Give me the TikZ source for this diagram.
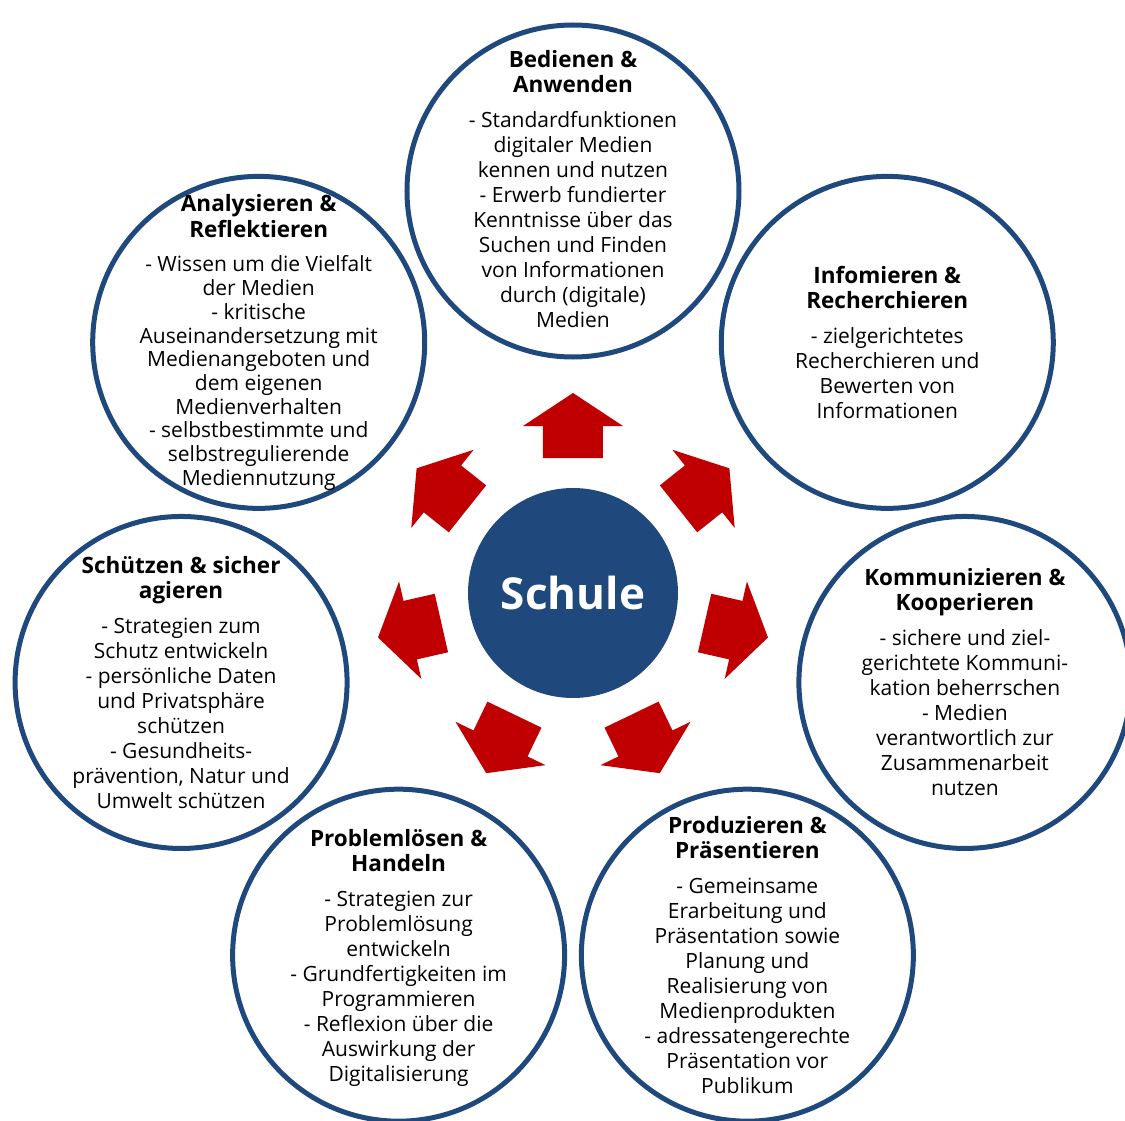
\documentclass[tikz,border=0pt]{standalone}
\usepackage{fontspec}
\setmainfont{Open Sans}
\usepackage{xcolor}
\usepackage{tikz}

\definecolor{schoolblue}{HTML}{1F497D}
\definecolor{arrowred}{HTML}{C00000}
\newcommand{\areatitle}[1]{{\fontsize{22.5}{25}\selectfont\bfseries #1}}

\begin{document}
\begin{tikzpicture}[
    x=1pt, y=1pt,
    core/.style={circle, fill=schoolblue, minimum size=210, inner sep=0, text=white, font=\fontsize{44}{50}\selectfont\bfseries},
    area/.style={circle, draw=schoolblue, line width=5, fill=white, minimum size=332, inner sep=0},
    content/.style={align=center, inner sep=0, font=\fontsize{21}{25}\selectfont},
    outarrow/.style={fill=arrowred}
]
    \useasboundingbox (-573,-527) rectangle (552,593);

    % Centre: Schule
    \node[core] (schule) at (0,0) {Schule};

    % Arrows pointing outwards
    \foreach \i in {0,...,6}
        \fill[outarrow, rotate={90-\i*360/7}] (135,-30) -- (167,-30) -- (167,-50) -- (200,0)
            -- (167,50) -- (167,30) -- (135,30) -- cycle;

    % Competence areas around the centre
    \node[area] (bedienen) at (90:402) {};
    \node[area] (infor) at (38.57:402) {};
    \node[area] (komm) at (-12.86:402) {};
    \node[area] (prod) at (-64.29:402) {};
    \node[area] (problem) at (-115.71:402) {};
    \node[area] (schutz) at (-167.14:402) {};
    \node[area] (analyse) at (141.43:402) {};

    % Texts of the areas
    \node[content, yshift=2] (bedienen-txt) at (bedienen) {\areatitle{Bedienen \&}\\\areatitle{Anwenden}\\[10pt]
        - Standardfunktionen\\digitaler Medien\\kennen und nutzen\\- Erwerb fundierter\\Kenntnisse über das\\Suchen und Finden\\von Informationen\\durch (digitale)\\Medien};
    \node[content] (infor-txt) at (infor) {\areatitle{Infomieren \&}\\\areatitle{Recherchieren}\\[10pt]
        - zielgerichtetes\\Recherchieren und\\Bewerten von\\Informationen};
    \node[content] (komm-txt) at (komm) {\areatitle{Kommunizieren \&}\\\areatitle{Kooperieren}\\[10pt]
        - sichere und ziel-\\gerichtete Kommuni-\\kation beherrschen\\- Medien\\verantwortlich zur\\Zusammenarbeit\\nutzen};
    \node[content] (prod-txt) at (prod) {\areatitle{Produzieren \&}\\\areatitle{Präsentieren}\\[10pt]
        - Gemeinsame\\Erarbeitung und\\Präsentation sowie\\Planung und\\Realisierung von\\Medienprodukten\\- adressatengerechte\\Präsentation vor\\Publikum};
    \node[content, yshift=-3] (problem-txt) at (problem) {\areatitle{Problemlösen \&}\\\areatitle{Handeln}\\[10pt]
        - Strategien zur\\Problemlösung\\entwickeln\\- Grundfertigkeiten im\\Programmieren\\- Reflexion über die\\Auswirkung der\\Digitalisierung};
    \node[content] (schutz-txt) at (schutz) {\areatitle{Schützen \& sicher}\\\areatitle{agieren}\\[10pt]
        - Strategien zum\\Schutz entwickeln\\- persönliche Daten\\und Privatsphäre\\schützen\\- Gesundheits-\\prävention, Natur und\\Umwelt schützen};
    \node[content, font=\fontsize{21}{23.7}\selectfont] (analyse-txt) at (analyse) {\areatitle{Analysieren \&}\\[2pt]\areatitle{Reflektieren}\\[11pt]
        - Wissen um die Vielfalt\\der Medien\\- kritische\\Auseinandersetzung mit\\Medienangeboten und\\dem eigenen\\Medienverhalten\\- selbstbestimmte und\\selbstregulierende\\Mediennutzung};

\end{tikzpicture}
\end{document}
